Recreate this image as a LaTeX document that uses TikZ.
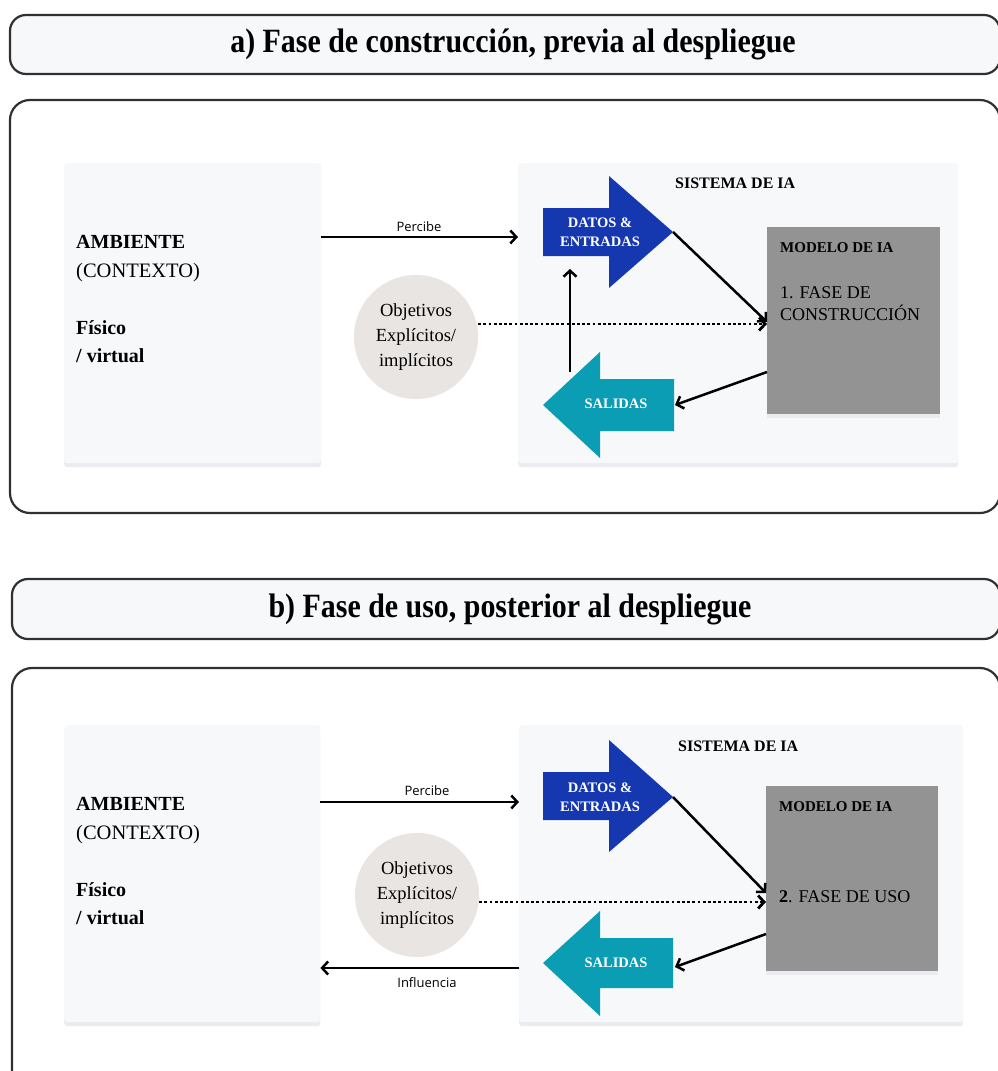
\documentclass[tikz,border=0pt]{standalone}
\usepackage{fontspec}
\setmainfont{Liberation Serif}
\newfontfamily\sansf{Open Sans}
\usetikzlibrary{arrows.meta}
\definecolor{panelfill}{HTML}{F7F8FA}
\definecolor{shadowc}{HTML}{EAECEF}
\definecolor{framec}{HTML}{303030}
\definecolor{datosc}{HTML}{1538B0}
\definecolor{salidasc}{HTML}{0B9DB4}
\definecolor{modelc}{HTML}{939393}
\definecolor{circc}{HTML}{E8E5E3}
\newcommand{\fs}[2]{\fontsize{#1}{#2}\selectfont}
\begin{document}
\begin{tikzpicture}[x=1pt,y=-1pt,
  titlebox/.style={draw=framec, line width=2.2pt, fill=panelfill, rounded corners=16pt},
  bigbox/.style={draw=framec, line width=2.2pt, fill=white, rounded corners=20pt},
  panel/.style={fill=panelfill, inner sep=0pt, anchor=north west, rounded corners=3pt,
     preaction={fill=shadowc, rounded corners=6pt, transform canvas={yshift=-4pt}}},
  modelbox/.style={fill=modelc, inner sep=0pt, anchor=north west,
     preaction={fill=shadowc, rounded corners=4pt, transform canvas={yshift=-4pt}}},
  titletext/.style={font=\fs{34}{40}\bfseries, inner sep=0pt},
  lbl/.style={anchor=base west, inner sep=0pt},
  objc/.style={circle, fill=circc, minimum size=124pt, inner sep=0pt, align=center, font=\fs{18.5}{25}},
  arrtext/.style={text=white, align=center, font=\fs{14.5}{19}\bfseries, inner sep=0pt},
  conn/.style={line width=2.5pt, -{Straight Barb[length=6pt,width=13pt]}},
  dots/.style={line width=2.8pt, dash pattern=on 2.8pt off 2.4pt, -{Straight Barb[length=6pt,width=13pt]}},
  smalllbl/.style={font=\sansf\fs{13}{15}, inner sep=0pt, anchor=base}
]
\useasboundingbox (0,0) rectangle (998,1071);
\clip (0,0) rectangle (998,1071);

% ---------------- Part a ----------------
\path[titlebox] (10,15) rectangle (1000,74);
\node[titletext] (ta) at (513,44.5) {\scalebox{0.88}[1]{a) Fase de construcción, previa al despliegue}};
\path[bigbox] (10,100) rectangle (1000,513);

\node[panel, minimum width=257pt, minimum height=300pt] (amb) at (64,163) {};
\node[lbl, font=\fs{20}{24}\bfseries] (amb1) at (76,248) {AMBIENTE};
\node[lbl, font=\fs{20.5}{24}] (amb2) at (76,277) {(CONTEXTO)};
\node[lbl, font=\fs{20}{24}\bfseries] (amb3) at (76,334) {Físico};
\node[lbl, font=\fs{20}{24}\bfseries] (amb4) at (76,362) {/ virtual};

\node[panel, minimum width=440pt, minimum height=300pt] (sis) at (518,163) {};
\node[lbl, font=\fs{16}{18}\bfseries] (sist) at (675,188) {SISTEMA DE IA};

\node[modelbox, minimum width=173pt, minimum height=187pt] (model) at (767,227) {};
\node[lbl, font=\fs{15}{18}\bfseries] (m1) at (780,252) {MODELO DE IA};
\node[lbl, font=\fs{18}{22}] (m2) at (780,298) {1. FASE DE};
\node[lbl, font=\fs{18}{22}] (m3) at (780,320) {CONSTRUCCIÓN};

\node[objc] (obj) at (416,337) {Objetivos\\Explícitos/\\implícitos};

\fill[datosc] (543,208) -- (609,208) -- (609,176) -- (673,232) -- (609,288) -- (609,256) -- (543,256) -- cycle;
\node[arrtext] (datos) at (600,232) {DATOS \&\\ENTRADAS};
\coordinate (datostip) at (673,232);

\fill[salidasc] (543,405) -- (600,352) -- (600,379) -- (674,379) -- (674,431) -- (600,431) -- (600,458) -- cycle;
\node[arrtext] (salidas) at (616,404) {SALIDAS};
\coordinate (salidastail) at (675,405);

\draw[conn] (amb.east |- 0,237) -- (sis.west |- 0,237);
\node[smalllbl] (perc) at (419,231) {Percibe};
\draw[dots] (obj.east |- 0,324) -- (model.west |- 0,324);
\draw[conn] (datostip) -- (model.west |- 0,322);
\draw[conn] (model.west |- 0,372) -- (salidastail);
\coordinate (fbfrom) at (570,372);
\coordinate (fbto) at (570,269);
\draw[conn] (fbfrom) -- (fbto);

% ---------------- Part b ----------------
\path[titlebox] (12,579) rectangle (1000,639);
\node[titletext] (tb) at (510,609) {\scalebox{0.88}[1]{b) Fase de uso, posterior al despliegue}};
\path[bigbox] (12,668) rectangle (1000,1095);

\node[panel, minimum width=256pt, minimum height=297pt] (ambb) at (64,725) {};
\node[lbl, font=\fs{20}{24}\bfseries] (bamb1) at (76,810) {AMBIENTE};
\node[lbl, font=\fs{20.5}{24}] (bamb2) at (76,839) {(CONTEXTO)};
\node[lbl, font=\fs{20}{24}\bfseries] (bamb3) at (76,896) {Físico};
\node[lbl, font=\fs{20}{24}\bfseries] (bamb4) at (76,924) {/ virtual};

\node[panel, minimum width=444pt, minimum height=297pt] (sisb) at (519,725) {};
\node[lbl, font=\fs{16}{18}\bfseries] (bsist) at (678,751) {SISTEMA DE IA};

\node[modelbox, minimum width=172pt, minimum height=185pt] (modelb) at (766,786) {};
\node[lbl, font=\fs{15}{18}\bfseries] (bm1) at (779,811) {MODELO DE IA};
\node[lbl, font=\fs{18}{22}] (bm2) at (779,902) {\textbf{2}. FASE DE USO};

\node[objc] (objb) at (417,895) {Objetivos\\Explícitos/\\implícitos};

\fill[datosc] (543,772) -- (609,772) -- (609,740) -- (673,797) -- (609,852) -- (609,820) -- (543,820) -- cycle;
\node[arrtext] (datosb) at (600,797) {DATOS \&\\ENTRADAS};
\coordinate (datostipb) at (673,797);

\fill[salidasc] (543,963) -- (600,911) -- (600,938) -- (673,938) -- (673,988) -- (600,988) -- (600,1016) -- cycle;
\node[arrtext] (salidasb) at (616,963) {SALIDAS};
\coordinate (salidastailb) at (675,967);

\draw[conn] (ambb.east |- 0,802) -- (sisb.west |- 0,802);
\node[smalllbl] (percb) at (427,795) {Percibe};
\draw[dots] (objb.east |- 0,902) -- (modelb.west |- 0,902);
\draw[conn] (datostipb) -- (modelb.west |- 0,893);
\draw[conn] (modelb.west |- 0,934) -- (salidastailb);
\draw[conn] (sisb.west |- 0,968) -- (ambb.east |- 0,968);
\node[smalllbl] (infl) at (427,987) {Influencia};
\end{tikzpicture}
\end{document}
